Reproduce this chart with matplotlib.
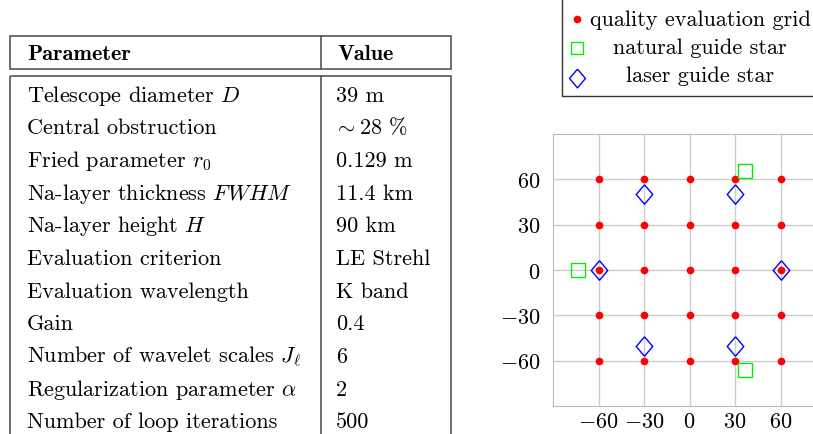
import numpy as np
import matplotlib
matplotlib.use("Agg")
import matplotlib.pyplot as plt
from matplotlib.patches import Rectangle

plt.rcParams['font.family'] = ['cmr10', 'DejaVu Serif']
plt.rcParams['mathtext.fontset'] = 'cm'
plt.rcParams['axes.formatter.use_mathtext'] = True

# table contents
params = ["Telescope diameter $D$", "Central obstruction", "Fried parameter $r_0$",
          "Na-layer thickness $FWHM$", "Na-layer height $H$", "Evaluation criterion",
          "Evaluation wavelength", "Gain", "Number of wavelet scales $J_\\ell$",
          "Regularization parameter $\\alpha$", "Number of loop iterations"]
values = ["39 m", "$\\sim$28 %", "0.129 m", "11.4 km", "90 km", "LE Strehl",
          "K band", "0.4", "6", "2", "500"]

# evaluation grid (arcsec)
grid_vals = [-60, -30, 0, 30, 60]
gx, gy = np.meshgrid(grid_vals, grid_vals)

# natural guide stars
ngs_x = [36.5, -73.5, 36.5]
ngs_y = [65.5, 0.0, -66.0]

# laser guide stars
lgs_x = [60.0, 30.0, -30.0, -60.0, -30.0, 30.0]
lgs_y = [0.0, 50.0, 50.0, 0.0, -50.0, -50.0]

# diamond marker, a bit narrower than tall
diamond = [(0, 1), (0.85, 0), (0, -1), (-0.85, 0), (0, 1)]

W, H = 813, 435
fig = plt.figure(figsize=(W / 100, H / 100), dpi=100)

# overlay in pixel coordinates for table and legend
ov = fig.add_axes([0, 0, 1, 1])
ov.set_xlim(0, W)
ov.set_ylim(H, 0)
ov.axis('off')

lc = '#555555'
fs = 16
ov.add_patch(Rectangle((9.5, 37), 441, 32.5, fill=False, ec=lc, lw=1.2))
ov.add_patch(Rectangle((9.5, 76.5), 441, 380, fill=False, ec=lc, lw=1.2))
ov.plot([321, 321], [37, 69.5], color=lc, lw=1.2)
ov.plot([321, 321], [76.5, 440], color=lc, lw=1.2)
ov.text(27, 60, "Parameter", fontfamily='cmb10', fontsize=fs, va='baseline')
ov.text(337, 60, "Value", fontfamily='cmb10', fontsize=fs, va='baseline')
for i, (p, v) in enumerate(zip(params, values)):
    y = 101.7 + i * 32.65
    ov.text(27, y, p, fontsize=fs, va='baseline')
    ov.text(334 if v.startswith('$') else 336, y, v, fontsize=fs, va='baseline')

# legend box
ov.add_patch(Rectangle((562, -5), 260, 102, fill=False, ec='#333333', lw=1.0))
ov.plot([577], [20], 'o', color='red', ms=4.5)
ov.plot([577], [49], 's', mfc='none', mec='#00ee00', ms=8.5, mew=1)
ov.plot([577], [79], marker=diamond, mfc='none', mec='blue', ms=13.5, mew=1)
ov.text(700, 26, "quality evaluation grid", fontsize=fs, ha='center', va='baseline')
ov.text(700, 54, "natural guide star", fontsize=fs, ha='center', va='baseline')
ov.text(700, 82.5, "laser guide star", fontsize=fs, ha='center', va='baseline')

# scatter plot
ax = fig.add_axes([553 / W, 28 / H, 273 / W, 272 / H])
ax.plot(gx.ravel(), gy.ravel(), 'o', color='red', ms=4.5, zorder=3)
ax.plot(ngs_x, ngs_y, 's', mfc='none', mec='#00ee00', ms=9.5, mew=1, zorder=3)
ax.plot(lgs_x, lgs_y, ls='none', marker=diamond, mfc='none', mec='blue', ms=14, mew=1, zorder=4)
ax.set_xlim(-90, 90)
ax.set_ylim(-90, 90)
ax.set_xticks(grid_vals)
ax.set_yticks(grid_vals)
ax.grid(True, color='#cccccc', lw=1)
ax.set_axisbelow(True)
ax.tick_params(axis='y', length=0, labelsize=fs, pad=9)
ax.tick_params(axis='x', length=0, labelsize=fs, pad=4)
for s in ax.spines.values():
    s.set_color('#bbbbbb')

fig.savefig("out.png", dpi=100)
